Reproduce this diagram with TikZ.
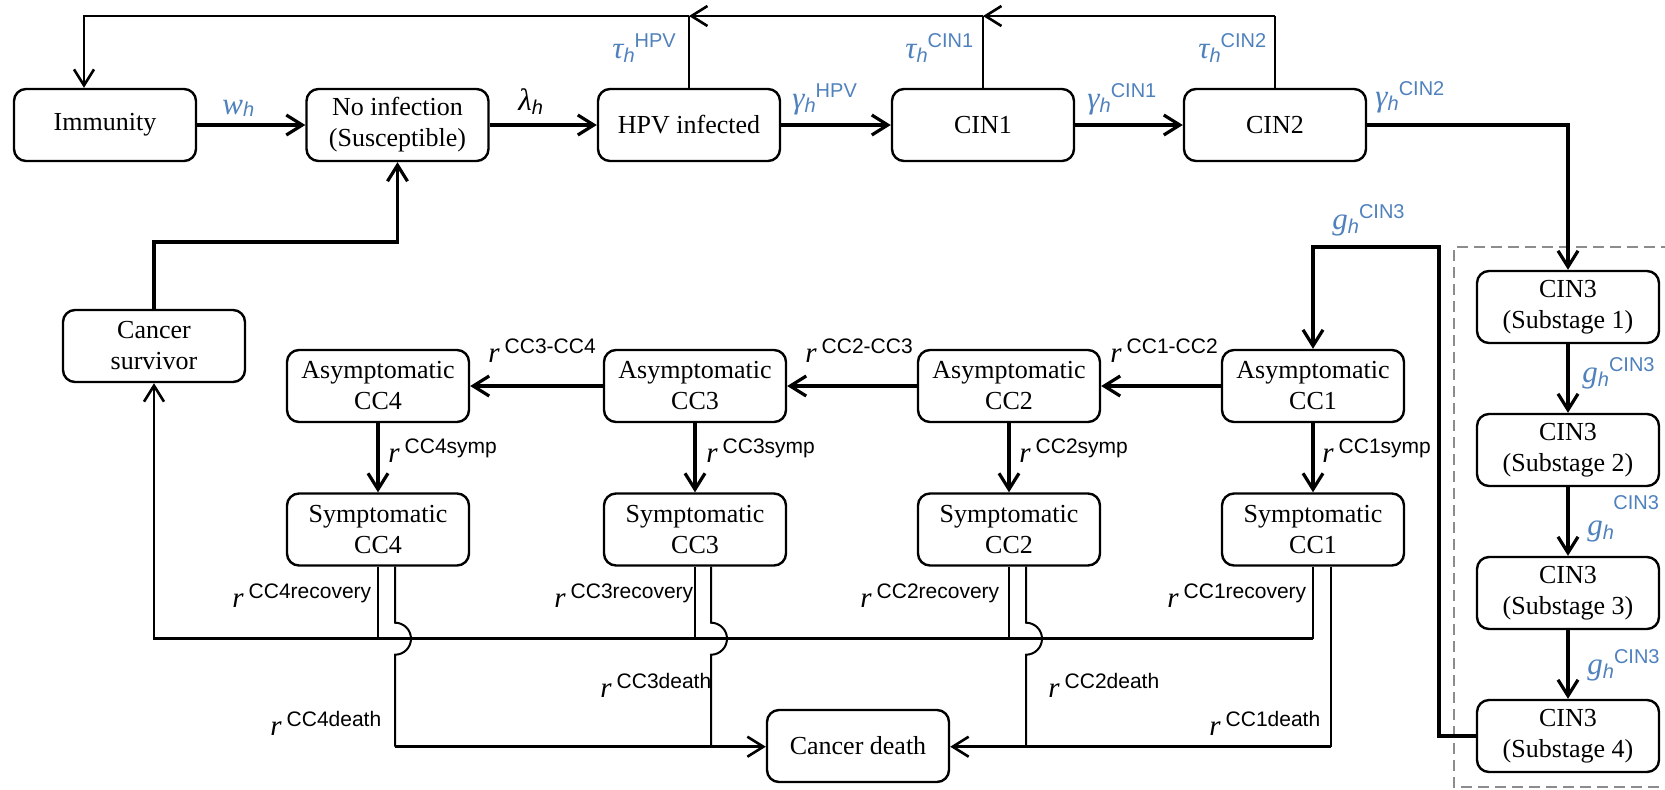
\documentclass[tikz,border=0pt]{standalone}
\usepackage{fontspec}
\setmainfont{Liberation Serif}
\setsansfont{Liberation Sans}
\usetikzlibrary{arrows.meta}
\definecolor{lblue}{RGB}{79,129,189}
\definecolor{dgray}{RGB}{140,140,140}
\newcommand{\gl}[2]{{\fontsize{15.5}{15.5}\selectfont\itshape #1}\raisebox{-2pt}{\fontsize{10}{10}\selectfont\sffamily\itshape h}\raisebox{5.5pt}{\fontsize{10}{10}\selectfont\sffamily #2}}
\newcommand{\rl}[1]{{\fontsize{14.5}{14.5}\selectfont\itshape r}\hspace{2.5pt}\raisebox{4.5pt}{\fontsize{10.5}{10.5}\selectfont\sffamily #1}}
\tikzset{
  box/.style={draw, line width=1.2pt, rounded corners=6pt, minimum width=91pt, minimum height=36pt, inner sep=0pt, align=center, font=\fontsize{13}{15.5}\selectfont},
  mainl/.style={line width=1.6pt},
  midl/.style={line width=1.3pt},
  thinl/.style={line width=1pt},
  barb/.style={-{Straight Barb[length=8pt,width=10pt]}},
  lab/.style={inner sep=0pt, anchor=base west},
  blab/.style={lab, text=lblue},
}
\begin{document}
\begin{tikzpicture}[x=0.5pt,y=0.5pt]
\useasboundingbox (0,0) rectangle (1665,-789);
% dashed group frame
\draw[dgray, line width=0.8pt, dash pattern=on 5.5pt off 3pt] (1672,-247) -- (1454,-247) -- (1454,-787) -- (1672,-787);
% nodes
\node[box] (imm) at (105,-125) {Immunity};
\node[box] (noinf) at (397.5,-125) {No infection\\(Susceptible)};
\node[box] (hpv) at (689,-125) {HPV infected};
\node[box] (cin1) at (983,-125) {CIN1};
\node[box] (cin2) at (1275,-125) {CIN2};
\node[box] (c3a) at (1568,-307) {CIN3\\(Substage 1)};
\node[box] (c3b) at (1568,-450) {CIN3\\(Substage 2)};
\node[box] (c3c) at (1568,-593) {CIN3\\(Substage 3)};
\node[box] (c3d) at (1568,-736) {CIN3\\(Substage 4)};
\node[box] (surv) at (154,-346) {Cancer\\survivor};
\node[box] (a4) at (378,-386) {Asymptomatic\\CC4};
\node[box] (a3) at (695,-386) {Asymptomatic\\CC3};
\node[box] (a2) at (1009,-386) {Asymptomatic\\CC2};
\node[box] (a1) at (1313,-386) {Asymptomatic\\CC1};
\node[box] (s4) at (378,-529.5) {Symptomatic\\CC4};
\node[box] (s3) at (695,-529.5) {Symptomatic\\CC3};
\node[box] (s2) at (1009,-529.5) {Symptomatic\\CC2};
\node[box] (s1) at (1313,-529.5) {Symptomatic\\CC1};
\node[box] (cd) at (858,-746) {Cancer death};
% helper coordinates
\coordinate (top) at (0,-16);
\coordinate (tl) at (84,-16);
\coordinate (k1) at (1439,-247);
\coordinate (sv) at (154,-242);
% top row flow
\draw[mainl,barb] (imm) -- (noinf);
\draw[mainl,barb] (noinf) -- (hpv);
\draw[mainl,barb] (hpv) -- (cin1);
\draw[mainl,barb] (cin1) -- (cin2);
\draw[mainl,barb] (cin2.east) -| (c3a.north);
% regression loop on top
\draw[thinl] (cin2.north) -- (cin2.north |- top);
\draw[thinl] (cin1.north) -- (cin1.north |- top);
\draw[thinl] (hpv.north) -- (hpv.north |- top);
\draw[midl,barb] (cin2.north |- top) -- (cin1.north |- top);
\draw[midl,barb] (cin1.north |- top) -- (hpv.north |- top);
\draw[midl,barb] (hpv.north |- top) -- (tl) -- (tl |- imm.north);
% CIN3 substages
\draw[mainl,barb] (c3a) -- (c3b);
\draw[mainl,barb] (c3b) -- (c3c);
\draw[mainl,barb] (c3c) -- (c3d);
\draw[mainl,barb] (c3d.west) -| (k1) -| (a1.north);
% asymptomatic chain
\draw[mainl,barb] (a1) -- (a2);
\draw[mainl,barb] (a2) -- (a3);
\draw[mainl,barb] (a3) -- (a4);
\draw[mainl,barb] (a1) -- (s1);
\draw[mainl,barb] (a2) -- (s2);
\draw[mainl,barb] (a3) -- (s3);
\draw[mainl,barb] (a4) -- (s4);
% survivor to no infection
\draw[mainl,barb] (surv.north) -- (surv.north |- sv) -| (noinf.south);
% recovery
\draw[thinl] (s4.south) -- ++(0,-72) coordinate (r4);
\draw[thinl] (s3.south) -- ++(0,-72) coordinate (r3);
\draw[thinl] (s2.south) -- ++(0,-72) coordinate (r2);
\draw[thinl] (s1.south) -- ++(0,-72) coordinate (r1);
\draw[midl,barb] (r1) -- (r1 -| surv.south) -- (surv.south);
% death
\draw[thinl] ([xshift=8.5pt]s4.south) -- ++(0,-56) arc[start angle=90, end angle=-90, radius=8pt] -- ++(0,-92) coordinate (d4);
\draw[thinl] ([xshift=8pt]s3.south) -- ++(0,-56) arc[start angle=90, end angle=-90, radius=8pt] -- ++(0,-92) coordinate (d3);
\draw[thinl] ([xshift=8.5pt]s2.south) -- ++(0,-56) arc[start angle=90, end angle=-90, radius=8pt] -- ++(0,-92) coordinate (d2);
\draw[thinl] ([xshift=9pt]s1.south) -- ++(0,-180) coordinate (d1);
\draw[midl,barb] (d4) -- (d4 -| cd.west);
\draw[midl,barb] (d1) -- (d1 -| cd.east);
% labels top
\node[blab] (lw) at (222,-114) {{\fontsize{15.5}{15.5}\selectfont\itshape w}\raisebox{-1pt}{\fontsize{10}{10}\selectfont\sffamily\itshape h}};
\node[lab] (ll) at (518,-110) {{\fontsize{15.5}{15.5}\selectfont\itshape λ}\raisebox{-2pt}{\fontsize{10}{10}\selectfont\sffamily\itshape h}};
\node[blab] (lt1) at (612,-58) {\gl{τ}{HPV}};
\node[blab] (lt2) at (905,-58) {\gl{τ}{CIN1}};
\node[blab] (lt3) at (1198,-58) {\gl{τ}{CIN2}};
\node[blab] (lg1) at (792,-108) {\gl{γ}{HPV}};
\node[blab] (lg2) at (1087,-108) {\gl{γ}{CIN1}};
\node[blab] (lg3) at (1375,-106) {\gl{γ}{CIN2}};
\node[blab] (lc0) at (1332,-229) {\gl{g}{CIN3}};
\node[blab] (lc1) at (1582,-382) {\gl{g}{CIN3}};
\node[blab] (lc2) at (1587,-535) {{\fontsize{15.5}{15.5}\selectfont\itshape g}\raisebox{-2pt}{\fontsize{10}{10}\selectfont\sffamily\itshape h}};
\node[blab] (lc2s) at (1613,-509) {\fontsize{10}{10}\selectfont\sffamily CIN3};
\node[blab] (lc3) at (1587,-674) {\gl{g}{CIN3}};
% rate labels
\node[lab] (p34) at (488,-362) {\rl{CC3-CC4}};
\node[lab] (p23) at (805,-362) {\rl{CC2-CC3}};
\node[lab] (p12) at (1110,-362) {\rl{CC1-CC2}};
\node[lab] (y4) at (388,-462) {\rl{CC4symp}};
\node[lab] (y3) at (706,-462) {\rl{CC3symp}};
\node[lab] (y2) at (1019,-462) {\rl{CC2symp}};
\node[lab] (y1) at (1322,-462) {\rl{CC1symp}};
\node[lab] (v4) at (232,-607) {\rl{CC4recovery}};
\node[lab] (v3) at (554,-607) {\rl{CC3recovery}};
\node[lab] (v2) at (860,-607) {\rl{CC2recovery}};
\node[lab] (v1) at (1167,-607) {\rl{CC1recovery}};
\node[lab] (e4) at (270,-735) {\rl{CC4death}};
\node[lab] (e3) at (600,-697) {\rl{CC3death}};
\node[lab] (e2) at (1048,-697) {\rl{CC2death}};
\node[lab] (e1) at (1209,-735) {\rl{CC1death}};
\end{tikzpicture}
\end{document}
